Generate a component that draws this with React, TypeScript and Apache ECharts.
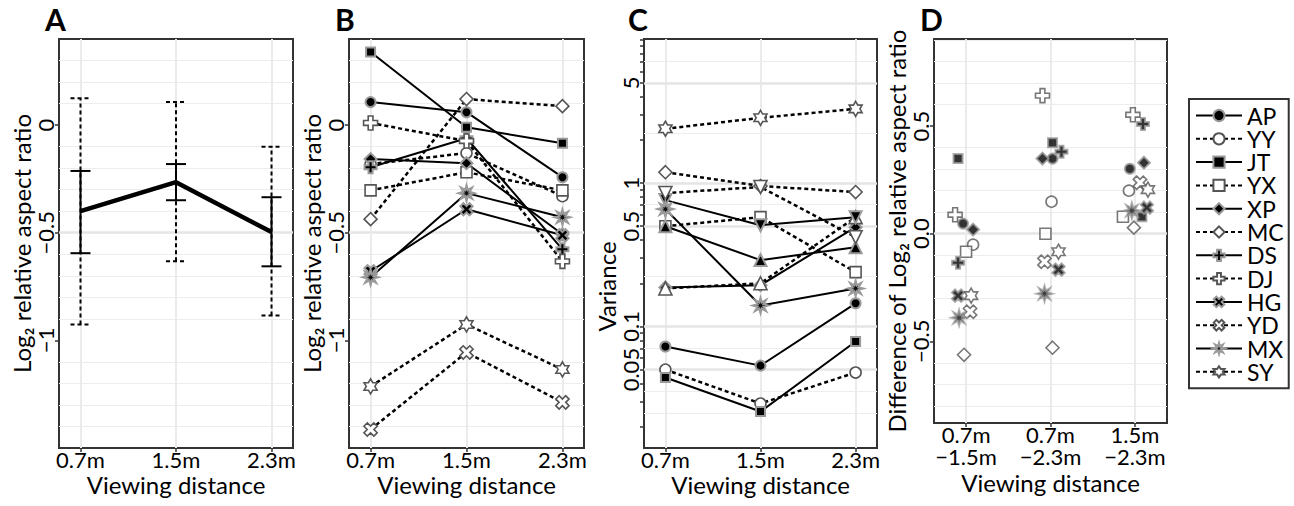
import React, { useEffect, useRef } from 'react';
import * as echarts from 'echarts';

// ---------- data ----------
const subjects = ['AP', 'YY', 'JT', 'YX', 'XP', 'MC', 'DS', 'DJ', 'HG', 'YD', 'MX', 'SY'];
const distances = ['0.7m', '1.5m', '2.3m'];
const distancePairs = ['0.7m\n−1.5m', '0.7m\n−2.3m', '1.5m\n−2.3m'];

// Panel A: mean log2 relative aspect ratio, SE and SD bars
const meanRatio = [-0.4, -0.265, -0.497];
const seLow = [-0.595, -0.349, -0.656];
const seHigh = [-0.213, -0.181, -0.335];
const sdLow = [-0.926, -0.633, -0.884];
const sdHigh = [0.125, 0.107, -0.1];

// Panel B: per subject (order of `subjects`)
const ratio07 = [0.107, -0.181, 0.34, -0.303, -0.158, -0.437, -0.196, 0.01, -0.679, -1.414, -0.707, -1.214];
const ratio15 = [0.06, -0.13, -0.01, -0.219, -0.177, 0.121, -0.061, -0.074, -0.391, -1.056, -0.316, -0.926];
const ratio23 = [-0.242, -0.33, -0.084, -0.303, -0.507, 0.088, -0.577, -0.633, -0.512, -1.288, -0.428, -1.135];

// Panel C: variance per subject
const var07 = [0.0724, 0.05, 0.044, 0.5, 0.187, 1.19, 0.5, 0.184, 0.76, 0.851, 0.658, 2.39];
const var15 = [0.0533, 0.029, 0.0255, 0.578, 0.194, 0.953, 0.29, 0.2, 0.508, 0.938, 0.14, 2.85];
const var23 = [0.145, 0.0477, 0.0785, 0.239, 0.492, 0.865, 0.357, 0.578, 0.578, 0.419, 0.184, 3.29];
const varianceRange = [0.0142, 10.1];
const varianceLabels = [0.05, 0.1, 0.5, 1, 5];
const varianceTicks = [0.02, 0.03, 0.04, 0.05, 0.06, 0.07, 0.08, 0.09, 0.1, 0.2, 0.3, 0.4, 0.5, 0.6, 0.7, 0.8, 0.9, 1, 2, 3, 4, 5, 6, 7, 8, 9, 10];
const varianceGridMajor = [0.05, 0.1, 0.5, 1, 5];
const varianceGridMinor = [0.025, 0.0354, 0.0707, 0.2236, 0.707, 2.236, 7.07];

// Panel D: differences, with horizontal jitter (category units)
const diff07_15 = [0.047, -0.051, 0.349, -0.084, 0.019, -0.563, -0.135, 0.088, -0.288, -0.363, -0.391, -0.288];
const diff07_23 = [0.349, 0.149, 0.423, 0.0, 0.349, -0.53, 0.381, 0.642, -0.167, -0.13, -0.279, -0.084];
const diff15_23 = [0.302, 0.2, 0.079, 0.079, 0.33, 0.028, 0.51, 0.553, 0.121, 0.237, 0.107, 0.205];
const jitter07_15 = [-0.036, 0.083, -0.095, 0, 0.083, -0.024, -0.095, -0.13, -0.095, 0.047, -0.083, 0.06];
const jitter07_23 = [0.024, 0.012, 0.024, -0.06, -0.095, 0.024, 0.13, -0.095, 0.095, -0.071, -0.071, 0.095];
const jitter15_23 = [-0.06, -0.071, 0.083, -0.142, 0.107, -0.012, 0.095, -0.024, 0.142, 0.06, -0.036, 0.154];

const ratioLabels = [-1, -0.5, 0];
const diffLabels = [-0.5, 0, 0.5];
const categoryPositions = [0, 1, 2];

// ---------- styles ----------
const FONT = 'Lato';
const PLUS = 'path://M3.3,0H6.7V3.3H10V6.7H6.7V10H3.3V6.7H0V3.3H3.3Z';
const STAR8 = 'path://M10,5L7.03,5.84L8.54,8.54L5.84,7.03L5,10L4.16,7.03L1.46,8.54L2.97,5.84L0,5L2.97,4.16L1.46,1.46L4.16,2.97L5,0L5.84,2.97L8.54,1.46L7.03,4.16Z';
const HEX = 'path://M5,0L6.44,2.5L9.33,2.5L7.89,5L9.33,7.5L6.44,7.5L5,10L3.56,7.5L0.67,7.5L2.11,5L0.67,2.5L3.56,2.5Z';

type Mk = { symbol: string; size: number; filled: boolean; rotate?: number; special?: boolean };
const markers: Mk[] = [
  { symbol: 'circle', size: 10, filled: true },
  { symbol: 'circle', size: 11, filled: false },
  { symbol: 'rect', size: 9, filled: true },
  { symbol: 'rect', size: 11, filled: false },
  { symbol: 'diamond', size: 12, filled: true },
  { symbol: 'diamond', size: 13, filled: false },
  { symbol: PLUS, size: 12, filled: true },
  { symbol: PLUS, size: 14, filled: false },
  { symbol: PLUS, size: 13, filled: true, rotate: 45 },
  { symbol: PLUS, size: 14, filled: false, rotate: 45 },
  { symbol: STAR8, size: 15, filled: true, special: true },
  { symbol: HEX, size: 15, filled: false },
];
const varianceMarkers: Mk[] = markers.map((m, i) => {
  if (i === 6) return { symbol: 'triangle', size: 12, filled: true };
  if (i === 7) return { symbol: 'triangle', size: 13, filled: false };
  if (i === 8) return { symbol: 'triangle', size: 12, filled: true, rotate: 180 };
  if (i === 9) return { symbol: 'triangle', size: 13, filled: false, rotate: 180 };
  return m;
});

const itemStyleOf = (m: Mk) =>
  m.special
    ? { color: '#111', borderColor: '#9a9a9a', borderWidth: 2.2 }
    : m.filled
    ? { color: '#000', borderColor: '#999', borderWidth: 2 }
    : { color: '#fff', borderColor: '#555', borderWidth: 1.6 };

const lineStyleOf = (i: number) =>
  i % 2 === 0 ? { color: '#000', width: 2, type: 'solid' } : { color: '#000', width: 2.5, type: [4, 3] };

const axisText = { fontFamily: FONT, fontSize: 22, color: '#000' };
const tickLine = { color: '#333', width: 1.5 };
const hiddenLine = { show: false, onZero: false };
const minus = (s: string) => s.replace('-', '−');

function buildOption(): any {
  const grids = [
    { left: 59, top: 39, width: 234, height: 409 },
    { left: 349, top: 39, width: 235, height: 409 },
    { left: 644, top: 39, width: 233, height: 409 },
    { left: 934, top: 39, width: 233, height: 384 },
  ].map((g) => ({ ...g, show: true, borderColor: '#333', borderWidth: 2, containLabel: false }));

  const xAxisOf = (gi: number, min: number, max: number, labels: string[], nameGap: number) => ({
    type: 'value',
    gridIndex: gi,
    position: 'bottom',
    min,
    max,
    axisLine: hiddenLine,
    axisTick: { show: true, customValues: categoryPositions, length: 4, lineStyle: tickLine },
    axisLabel: {
      customValues: categoryPositions,
      formatter: (v: number) => labels[Math.round(v)] ?? '',
      ...axisText,
      lineHeight: 22,
      margin: 0,
    },
    splitLine: { show: false },
    name: 'Viewing distance',
    nameLocation: 'middle',
    nameGap,
    nameMoveOverlap: false,
    nameTextStyle: { fontFamily: FONT, fontSize: 24, color: '#000', lineHeight: 22 },
  });

  const nameStyle = { fontFamily: FONT, fontSize: 24, color: '#000' };

  const ratioY = (gi: number) => ({
    type: 'value',
    gridIndex: gi,
    position: 'left',
    min: -1.5,
    max: 0.4,
    interval: 0.5,
    axisLine: hiddenLine,
    axisTick: { show: true, customValues: ratioLabels, length: 4, lineStyle: tickLine },
    axisLabel: {
      customValues: ratioLabels,
      rotate: 90,
      margin: 3,
      ...axisText,
      formatter: (v: number) => minus(String(v)),
    },
    splitLine: { show: true, showMinLine: false, showMaxLine: false, lineStyle: { color: '#e5e5e5', width: 2.5 } },
    minorTick: { show: false, splitNumber: 5 },
    minorSplitLine: { show: true, lineStyle: { color: '#ededed', width: 1.2 } },
    name: 'Log₂ relative aspect ratio',
    nameLocation: 'middle',
    nameRotate: 90,
    nameGap: 10,
    nameTextStyle: nameStyle,
  });

  const xAxis = [
    xAxisOf(0, -0.225, 2.225, distances, 25),
    xAxisOf(1, -0.225, 2.225, distances, 25),
    xAxisOf(2, -0.225, 2.225, distances, 25),
    xAxisOf(3, -0.38, 2.38, distancePairs, 48),
  ];

  const yAxis = [
    ratioY(0),
    ratioY(1),
    {
      type: 'log',
      logBase: 10,
      gridIndex: 2,
      position: 'left',
      min: varianceRange[0],
      max: varianceRange[1],
      axisLine: hiddenLine,
      axisTick: { show: true, customValues: varianceTicks, length: 4, lineStyle: tickLine },
      axisLabel: {
        customValues: varianceLabels,
        rotate: 90,
        margin: 3,
        ...axisText,
        formatter: (v: number) => String(Number(Number(v).toPrecision(3))),
      },
      splitLine: { show: false },
      minorSplitLine: { show: false },
      name: 'Variance',
      nameLocation: 'middle',
      nameRotate: 90,
      nameGap: 25,
      nameTextStyle: { ...nameStyle, padding: [0, 86, 0, 0] },
    },
    {
      type: 'value',
      gridIndex: 3,
      position: 'left',
      min: -0.88,
      max: 0.905,
      minInterval: 0.5,
      maxInterval: 0.5,
      axisLine: hiddenLine,
      axisTick: { show: true, customValues: diffLabels, length: 4, lineStyle: tickLine },
      axisLabel: {
        customValues: diffLabels,
        rotate: 90,
        margin: 3,
        ...axisText,
        formatter: (v: number) => minus(Number(v).toFixed(1)),
      },
      splitLine: { show: true, showMinLine: false, showMaxLine: false, lineStyle: { color: '#e5e5e5', width: 2.5 } },
      minorTick: { show: false, splitNumber: 5 },
      minorSplitLine: { show: true, lineStyle: { color: '#ededed', width: 1.2 } },
      name: 'Difference of Log₂ relative aspect ratio',
      nameLocation: 'middle',
      nameRotate: 90,
      nameGap: 17,
      nameTextStyle: nameStyle,
    },
  ];

  const gridStyle = { color: '#ebebeb', width: 2, type: 'solid' };
  const gridSeries = (gi: number, lines: any[]) => ({
    type: 'scatter',
    xAxisIndex: gi,
    yAxisIndex: gi,
    data: [],
    silent: true,
    markLine: {
      silent: true,
      z: 0,
      symbol: ['none', 'none'],
      label: { show: false },
      emphasis: { disabled: true },
      lineStyle: gridStyle,
      data: lines,
    },
  });
  const vGrid = categoryPositions.map((v) => ({ xAxis: v }));
  const vGridC = categoryPositions.map((v) => [
    { coord: [v, varianceRange[0]] },
    { coord: [v, varianceRange[1]] },
  ]);
  const cMajor = varianceGridMajor.map((v) => [
    { coord: [-0.225, v], lineStyle: { color: '#e5e5e5', width: 2.5, type: 'solid' } },
    { coord: [2.225, v] },
  ]);
  const cMinor = varianceGridMinor.map((v) => [
    { coord: [-0.225, v], lineStyle: { color: '#ededed', width: 1.2, type: 'solid' } },
    { coord: [2.225, v] },
  ]);

  const errorBar = (dashed: boolean) => (params: any, api: any) => {
    const x = api.value(0);
    const lo = api.coord([x, api.value(1)]);
    const hi = api.coord([x, api.value(2)]);
    const w = 10;
    const style = { stroke: '#000', lineWidth: 2, fill: null, lineDash: dashed ? [4, 3] : null };
    return {
      type: 'group',
      children: [
        { type: 'line', shape: { x1: lo[0], y1: lo[1], x2: hi[0], y2: hi[1] }, style },
        { type: 'line', shape: { x1: lo[0] - w, y1: lo[1], x2: lo[0] + w, y2: lo[1] }, style },
        { type: 'line', shape: { x1: hi[0] - w, y1: hi[1], x2: hi[0] + w, y2: hi[1] }, style },
      ],
    };
  };

  const ratioByDist = [ratio07, ratio15, ratio23];
  const varByDist = [var07, var15, var23];
  const diffs = [diff07_15, diff07_23, diff15_23];
  const jitters = [jitter07_15, jitter07_23, jitter15_23];

  const lineSeries = (gi: number, mks: Mk[], values: number[][]) =>
    subjects.map((name, i) => {
      const m = mks[i];
      return {
        name,
        type: 'line',
        xAxisIndex: gi,
        yAxisIndex: gi,
        data: distances.map((_, d) => [d, values[d][i]]),
        symbol: m.symbol,
        symbolSize: m.size,
        symbolRotate: m.rotate || 0,
        symbolKeepAspect: true,
        showSymbol: true,
        lineStyle: lineStyleOf(i),
        itemStyle: itemStyleOf(m),
        emphasis: { disabled: true },
        z: 2,
      };
    });

  const seriesB = lineSeries(1, markers, ratioByDist);
  const seriesC = lineSeries(2, varianceMarkers, varByDist);

  const seriesD = subjects.map((name, i) => {
    const m = markers[i];
    return {
      name,
      type: 'scatter',
      xAxisIndex: 3,
      yAxisIndex: 3,
      data: distancePairs.map((_, g) => [g + jitters[g][i], diffs[g][i]]),
      symbol: m.symbol,
      symbolSize: m.size,
      symbolRotate: m.rotate || 0,
      symbolKeepAspect: true,
      itemStyle: itemStyleOf(m),
      emphasis: { disabled: true },
      z: 2,
    };
  });

  const seriesA = [
    {
      type: 'custom',
      xAxisIndex: 0,
      yAxisIndex: 0,
      data: distances.map((_, d) => [d, sdLow[d], sdHigh[d]]),
      encode: { x: 0, y: [1, 2] },
      renderItem: errorBar(true),
      silent: true,
      z: 2,
    },
    {
      type: 'custom',
      xAxisIndex: 0,
      yAxisIndex: 0,
      data: distances.map((_, d) => [d, seLow[d], seHigh[d]]),
      encode: { x: 0, y: [1, 2] },
      renderItem: errorBar(false),
      silent: true,
      z: 2,
    },
    {
      type: 'line',
      xAxisIndex: 0,
      yAxisIndex: 0,
      data: distances.map((_, d) => [d, meanRatio[d]]),
      symbol: 'none',
      lineStyle: { color: '#000', width: 4.5 },
      emphasis: { disabled: true },
      z: 3,
    },
  ];

  return {
    animation: false,
    textStyle: { fontFamily: FONT, color: '#000' },
    title: ['A', 'B', 'C', 'D'].map((t, k) => ({
      text: t,
      left: [45, 335, 628, 920][k],
      top: 4,
      padding: 0,
      textStyle: { fontFamily: FONT, fontSize: 30, fontWeight: 'bold', color: '#000' },
    })),
    legend: {
      data: subjects,
      orient: 'vertical',
      left: 1189,
      top: 99,
      itemWidth: 46,
      itemHeight: 14,
      itemGap: 0.3,
      padding: [5, 5, 5, 6],
      borderColor: '#333',
      borderWidth: 2,
      selectedMode: false,
      textStyle: { fontFamily: FONT, fontSize: 23, color: '#000', lineHeight: 23 },
    },
    grid: grids,
    xAxis,
    yAxis,
    series: [
      ...seriesB,
      ...seriesC,
      ...seriesD,
      gridSeries(0, vGrid),
      gridSeries(1, vGrid),
      gridSeries(2, [...vGridC, ...cMajor, ...cMinor]),
      gridSeries(3, vGrid),
      ...seriesA,
    ],
  };
}

export default function App() {
  const ref = useRef<HTMLDivElement>(null);
  useEffect(() => {
    if (!ref.current) return;
    const chart = echarts.init(ref.current, null, { renderer: 'svg' });
    chart.setOption(buildOption());
    return () => chart.dispose();
  }, []);
  return (
    <div
      ref={ref}
      style={{ position: 'fixed', left: 0, top: 0, width: 1294, height: 506, background: '#fff' }}
    />
  );
}
